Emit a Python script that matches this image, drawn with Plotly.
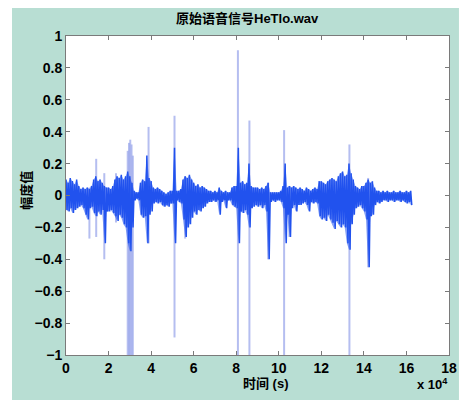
import plotly.graph_objects as go

# Time bins (units of 10^4 samples), envelope of the dense waveform band
bin_step = 0.1
band_upper = [
    0.10, 0.08, 0.11, 0.09, 0.07, 0.10, 0.06, 0.04, 0.05, 0.04,
    0.05, 0.04, 0.06, 0.10, 0.12, 0.09, 0.10, 0.08, 0.06, 0.05,
    0.05, 0.04, 0.06, 0.10, 0.12, 0.11, 0.13, 0.10, 0.12, 0.15,
    0.12, 0.08, 0.03, 0.02, 0.02, 0.08, 0.10, 0.09, 0.25, 0.11,
    0.09, 0.05, 0.04, 0.05, 0.04, 0.03, 0.02, 0.01, 0.02, 0.03,
    0.03, 0.30, 0.03, 0.03, 0.04, 0.10, 0.12, 0.11, 0.13, 0.10,
    0.08, 0.06, 0.07, 0.05, 0.06, 0.05, 0.04, 0.03, 0.03, 0.02,
    0.03, 0.02, 0.05, 0.03, 0.02, 0.03, 0.02, 0.02, 0.05, 0.06,
    0.06, 0.30, 0.08, 0.09, 0.07, 0.08, 0.20, 0.06, 0.05, 0.05,
    0.05, 0.04, 0.05, 0.04, 0.06, 0.08, 0.02, 0.02, 0.02, 0.02,
    0.02, 0.03, 0.06, 0.20, 0.05, 0.06, 0.05, 0.06, 0.05, 0.04,
    0.05, 0.04, 0.03, 0.05, 0.04, 0.03, 0.04, 0.05, 0.04, 0.09,
    0.09, 0.08, 0.07, 0.09, 0.10, 0.11, 0.10, 0.09, 0.12, 0.14,
    0.15, 0.12, 0.13, 0.20, 0.14, 0.10, 0.06, 0.05, 0.04, 0.06,
    0.06, 0.08, 0.10, 0.08, 0.09, 0.05, 0.03, 0.03, 0.02, 0.03,
    0.02, 0.03, 0.02, 0.02, 0.03, 0.02, 0.02, 0.03, 0.02, 0.02,
    0.03, 0.02, 0.03,
]
band_lower = [
    -0.09, -0.10, -0.08, -0.11, -0.09, -0.08, -0.07, -0.06, -0.08, -0.12,
    -0.15, -0.08, -0.07, -0.11, -0.13, -0.10, -0.12, -0.09, -0.30, -0.10,
    -0.10, -0.09, -0.11, -0.13, -0.16, -0.12, -0.14, -0.18, -0.20, -0.30,
    -0.35, -0.20, -0.03, -0.02, -0.03, -0.12, -0.14, -0.13, -0.30, -0.12,
    -0.10, -0.05, -0.04, -0.05, -0.04, -0.06, -0.07, -0.06, -0.07, -0.05,
    -0.05, -0.30, -0.03, -0.04, -0.05, -0.15, -0.26, -0.20, -0.18, -0.14,
    -0.10, -0.12, -0.09, -0.10, -0.08, -0.07, -0.05, -0.04, -0.04, -0.03,
    -0.04, -0.03, -0.12, -0.04, -0.03, -0.08, -0.03, -0.03, -0.06, -0.07,
    -0.08, -0.30, -0.10, -0.11, -0.09, -0.12, -0.20, -0.08, -0.07, -0.06,
    -0.07, -0.06, -0.08, -0.06, -0.10, -0.40, -0.04, -0.03, -0.04, -0.03,
    -0.03, -0.04, -0.08, -0.30, -0.12, -0.26, -0.08, -0.06, -0.10, -0.06,
    -0.06, -0.05, -0.04, -0.06, -0.10, -0.04, -0.05, -0.04, -0.05, -0.13,
    -0.15, -0.14, -0.16, -0.12, -0.15, -0.17, -0.21, -0.16, -0.18, -0.20,
    -0.18, -0.20, -0.30, -0.34, -0.18, -0.12, -0.08, -0.07, -0.06, -0.08,
    -0.10, -0.15, -0.45, -0.13, -0.12, -0.06, -0.04, -0.05, -0.04, -0.03,
    -0.03, -0.04, -0.03, -0.03, -0.04, -0.03, -0.03, -0.04, -0.03, -0.04,
    -0.05, -0.04, -0.06,
]

# Isolated single-sample spikes (light strokes)
spike_t = [1.1, 1.42, 1.8, 2.35, 2.9, 2.96, 3.02, 3.08, 3.14, 3.88, 5.1, 5.6,
           8.08, 8.62, 9.5, 10.25, 10.5, 13.32, 14.2]
spike_hi = [0.05, 0.23, 0.14, 0.14, 0.28, 0.33, 0.35, 0.32, 0.25, 0.43, 0.50, 0.12,
            0.91, 0.47, 0.08, 0.41, 0.06, 0.32, 0.11]
spike_lo = [-0.27, -0.26, -0.40, -0.17, -1.0, -1.0, -1.0, -1.0, -1.0, -0.30, -0.89, -0.27,
            -1.0, -1.0, -0.40, -1.0, -0.26, -1.0, -0.45]

x_ticks = list(range(0, 19, 2))
y_ticks = [-1, -0.8, -0.6, -0.4, -0.2, 0, 0.2, 0.4, 0.6, 0.8, 1]
y_tick_text = ["\u22121", "\u22120.8", "\u22120.6", "\u22120.4", "\u22120.2", "0",
               "0.2", "0.4", "0.6", "0.8", "1"]

title_text = "原始语音信号HeTlo.wav"
x_label = "时间 (s)"
y_label = "幅度值"

FONT = "Liberation Sans, Arial, Noto Sans CJK SC"
BLUE = "#2152ee"
BLUE_FILL = "rgba(33,82,238,0.55)"
LIGHT = "rgba(150,163,234,0.7)"

# Build waveform zigzag from the envelope arrays
wx, wy = [], []
for i, (u, l) in enumerate(zip(band_upper, band_lower)):
    t = i * bin_step
    wx += [t, t + bin_step / 2]
    wy += [u, l]

ex = [i * bin_step for i in range(len(band_upper))]

sx, sy = [], []
for t, h, l in zip(spike_t, spike_hi, spike_lo):
    sx += [t, t, None]
    sy += [h, l, None]

fig = go.Figure()
fig.add_trace(go.Scatter(x=sx, y=sy, mode="lines",
                         line=dict(color=LIGHT, width=2), hoverinfo="skip"))
# band body between envelopes
fig.add_trace(go.Scatter(x=ex, y=band_upper, mode="lines",
                         line=dict(width=0), hoverinfo="skip"))
fig.add_trace(go.Scatter(x=ex, y=band_lower, mode="lines",
                         line=dict(width=0), fill="tonexty", fillcolor=BLUE_FILL,
                         hoverinfo="skip"))
fig.add_trace(go.Scatter(x=wx, y=wy, mode="lines",
                         line=dict(color=BLUE, width=1.5), hoverinfo="skip"))

axis_common = dict(
    showgrid=False, zeroline=False, showline=True, linecolor="#7a7a7a",
    linewidth=1, mirror="ticks", ticks="inside", ticklen=4, tickcolor="#7a7a7a",
    tickfont=dict(family=FONT, size=14, color="black", weight="bold"),
)

fig.update_layout(
    width=469, height=400,
    margin=dict(l=66, r=13, t=36, b=45),
    paper_bgcolor="white", plot_bgcolor="white",
    showlegend=False,
    xaxis=dict(range=[0, 18], tickvals=x_ticks, ticktext=[str(v) for v in x_ticks],
               **axis_common),
    yaxis=dict(range=[-1, 1], tickvals=y_ticks, ticktext=y_tick_text,
               **axis_common),
    shapes=[
        dict(type="rect", xref="paper", yref="paper", x0=-0.141, x1=1.026,
             y0=-0.145, y1=1.088, fillcolor="#b8ded3", line=dict(width=0),
             layer="below"),
        dict(type="rect", xref="paper", yref="paper", x0=0, x1=1, y0=0, y1=1,
             fillcolor="white", line=dict(width=0), layer="below"),
    ],
    annotations=[
        dict(text=title_text, xref="paper", yref="paper", x=0.474, y=1.055,
             xanchor="center", yanchor="middle", showarrow=False,
             font=dict(family=FONT, size=13, color="black", weight="bold")),
        dict(text=y_label, xref="paper", yref="paper", x=-0.105, y=0.517,
             xanchor="center", yanchor="middle", textangle=-90, showarrow=False,
             font=dict(family=FONT, size=13, color="black", weight="bold")),
        dict(text=x_label, xref="paper", yref="paper", x=0.523, y=-0.088,
             xanchor="center", yanchor="middle", showarrow=False,
             font=dict(family=FONT, size=13, color="black", weight="bold")),
        dict(text="x 10<sup>4</sup>", xref="paper", yref="paper", x=1.003, y=-0.09,
             xanchor="right", yanchor="middle", showarrow=False,
             font=dict(family=FONT, size=13, color="black", weight="bold")),
    ],
)

fig.write_html("out.html")
